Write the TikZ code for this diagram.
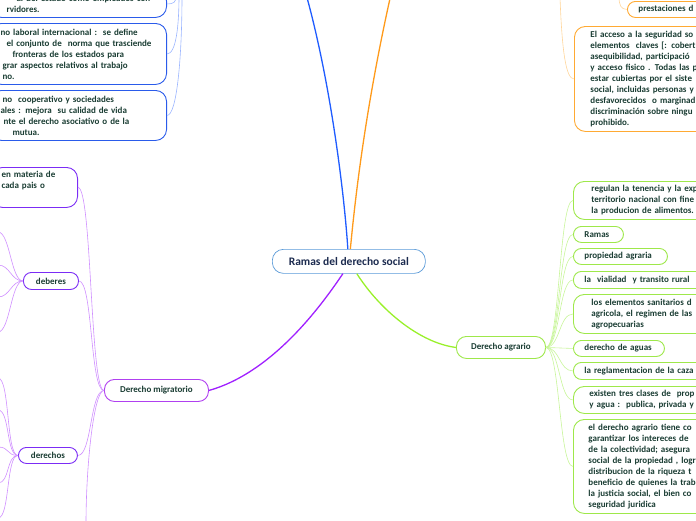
\documentclass[tikz,border=0pt]{standalone}
\usepackage{fontspec}
\setmainfont{Carlito}
\definecolor{txt}{HTML}{1A3D33}
\definecolor{rtxt}{HTML}{1C2B4F}
\definecolor{rootb}{HTML}{5A9AD8}
\definecolor{bmain}{HTML}{1F5CFF}
\definecolor{bbord}{HTML}{2A5BEA}
\definecolor{bline}{HTML}{9BB5FF}
\definecolor{omain}{HTML}{FF9A1A}
\definecolor{obord}{HTML}{FFAA33}
\definecolor{oline}{HTML}{FFD59A}
\definecolor{gmain}{HTML}{99F02A}
\definecolor{gbord}{HTML}{9EE84A}
\definecolor{gline}{HTML}{C8F59A}
\definecolor{pmain}{HTML}{A020FF}
\definecolor{pmig}{HTML}{B040F0}
\definecolor{pbord}{HTML}{7B2CF5}
\definecolor{pline}{HTML}{CF8FFF}
\tikzset{
  base/.style={rounded corners=8pt, fill=white, line width=0.9pt, text=txt,
    font=\fontsize{9}{11}\selectfont\bfseries, inner ysep=0pt},
  tbox/.style={base, rounded corners=11pt, align=left},
  gbox/.style={base, draw=gbord, align=left},
  gtbox/.style={tbox, draw=gbord},
  otbox/.style={tbox, draw=obord},
  obox/.style={base, draw=obord, align=left},
  btbox/.style={tbox, draw=bbord, text width=156pt, inner xsep=10pt, anchor=north east},
  ptbox/.style={tbox, draw=pbord},
  pbox/.style={base, draw=pbord, align=center},
  migbox/.style={base, draw=pmig, align=center, rounded corners=10pt},
  agrbox/.style={base, draw=gbord, align=center, rounded corners=10pt},
  rootbox/.style={base, draw=rootb, line width=0.7pt, text=rtxt, align=center,
    rounded corners=11pt, font=\fontsize{11.5}{13}\selectfont\bfseries},
  mainline/.style={line width=1.3pt},
  subline/.style={line width=0.6pt},
}
\begin{document}
\begin{tikzpicture}[x=1pt,y=-1pt]
\useasboundingbox (0,0) rectangle (696,520);

% root
\node[rootbox, anchor=north west, minimum width=153pt, minimum height=24pt] (root) at (272,249) {Ramas del derecho social};

% blue side (top-left)
\node[btbox, minimum height=27pt] (b1) at (167,-10) {\hspace*{16pt}al del estado como empleados con\\\hspace*{6pt}rvidores.};
\node[btbox, minimum height=61pt] (b2) at (167,23) {no laboral internacional :\ \ se define\\\hspace*{6pt}el conjunto de\ \ norma que trasciende\\\hspace*{12pt}fronteras de los estados para\\\hspace*{2pt}grar aspectos relativos al trabajo\\\hspace*{2pt}no.};
\node[btbox, minimum height=50pt] (b3) at (167,90) {\hspace*{2pt}no\ \ cooperativo y sociedades\\ales : mejora\ \ su calidad de vida\\\hspace*{3pt}nte el derecho asociativo o de la\\\hspace*{12pt}mutua.};
\coordinate (bt1) at (176,-4);
\coordinate (bt2) at (179,-4);
\coordinate (bt3) at (182,-4);

% orange side (top-right)
\node[obox, anchor=north west, text width=140pt, inner xsep=11pt, minimum height=16pt] (o1) at (627,1) {prestaciones d};
\node[otbox, anchor=north west, text width=170pt, inner xsep=16pt, minimum height=105pt] (o2) at (574,26) {El acceso a la seguridad so\\elementos\ \ claves [: cobert\\asequibilidad, participació\\y acceso fisico . Todas las p\\estar cubiertas por el siste\\social, incluidas personas y\\desfavorecidos\ \ o marginad\\discriminación sobre ningu\\prohibido.};
\coordinate (ot1) at (619,-3);
\coordinate (ot2) at (560,-3);

% green side
\node[agrbox, anchor=north west, minimum width=89pt, minimum height=22pt] (agr) at (456,336) {Derecho agrario};
\node[gtbox, anchor=north west, text width=182pt, inner xsep=18pt, minimum height=38pt] (g1) at (573,181) {regulan la tenencia y la exp\\territorio nacional con fine\\la producion de alimentos.};
\node[gbox, anchor=north west, text width=28pt, inner xsep=11pt, minimum height=16pt] (g2) at (573,226) {Ramas};
\node[gbox, anchor=north west, text width=72pt, inner xsep=11pt, minimum height=16pt] (g3) at (573,248) {propiedad agraria};
\node[gbox, anchor=north west, text width=160pt, inner xsep=11pt, minimum height=17pt] (g4) at (573,271) {la\ \ vialidad\ \ y transito rural};
\node[gtbox, anchor=north west, text width=182pt, inner xsep=18pt, minimum height=39pt] (g5) at (573,294) {los elementos sanitarios d\\agricola, el regimen de las\\agropecuarias};
\node[gbox, anchor=north west, text width=69pt, inner xsep=11pt, minimum height=16pt] (g6) at (573,340) {derecho de aguas};
\node[gbox, anchor=north west, text width=170pt, inner xsep=11pt, minimum height=17pt] (g7) at (573,362) {la reglamentacion de la caza};
\node[gtbox, anchor=north west, text width=184pt, inner xsep=16pt, minimum height=27pt] (g8) at (573,386) {existen tres clases de\ \ prop\\y agua :\ \ publica, privada y};
\node[gtbox, anchor=north west, text width=185pt, inner xsep=15pt, minimum height=94pt] (g9) at (573,419) {el derecho agrario tiene co\\garantizar los intereces de\\de la colectividad; asegura\\social de la propiedad , logr\\distribucion de la riqueza t\\beneficio de quienes la trab\\la justicia social, el bien co\\seguridad juridica};

% purple side
\node[migbox, anchor=north west, minimum width=104pt, minimum height=22pt] (mig) at (104,379) {Derecho migratorio};
\node[ptbox, anchor=north east, text width=66pt, inner xsep=10pt, minimum height=40pt] (p1) at (78,167) {en materia de\\cada pais o\\\strut};
\node[pbox, anchor=north west, minimum width=55pt, minimum height=17pt] (deb) at (23,272) {deberes};
\node[pbox, anchor=north west, minimum width=59pt, minimum height=16pt] (der) at (18,447) {derechos};
\coordinate (migdown) at (86,524);
\coordinate (d1) at (-2,232);
\coordinate (d2) at (-2,265);
\coordinate (d3) at (-2,297);
\coordinate (d4) at (-2,332);
\coordinate (e1) at (-2,378);
\coordinate (e2) at (-2,410);
\coordinate (e3) at (-2,447);
\coordinate (e4) at (-2,483);
\coordinate (e5) at (-2,518);
\coordinate (btop) at (306,-6);
\coordinate (otop) at (391,-6);

% main connectors
\draw[mainline, bmain] ([xshift=-1pt]root.north) .. controls (344,190) and (330,80) .. (btop);
\draw[mainline, omain] ([xshift=1.5pt]root.north) .. controls (355,200) and (365,110) .. (otop);
\draw[mainline, pmain] ([xshift=-6pt]root.south) .. controls (325,300) and (275,372) .. (mig.east);
\draw[mainline, gmain] ([xshift=8pt]root.south) .. controls (380,310) and (420,343) .. (agr.west);

% blue sub
\begin{scope}[subline, bline]
\draw (b1.east) .. controls +(7,0) and +(0,6) .. (bt1);
\draw (b2.east) .. controls +(9,0) and +(0,30) .. (bt2);
\draw (b3.east) .. controls +(10,0) and +(0,60) .. (bt3);
\end{scope}

% orange sub
\begin{scope}[subline, oline]
\draw (ot1) .. controls +(0,8) and +(-6,0) .. (o1.west);
\draw (ot2) .. controls +(2,55) and +(-8,0) .. (o2.west);
\end{scope}

% green sub
\begin{scope}[subline, gline]
\foreach \g in {g1,g2,g3,g4,g5,g6,g7,g8,g9}
  \draw (agr.east) .. controls +(14,0) and +(-14,0) .. (\g.west);
\end{scope}

% purple sub
\begin{scope}[subline, pline]
\draw (p1.east) .. controls +(14,0) and +(-14,0) .. (mig.west);
\draw (deb.east) .. controls +(14,0) and +(-14,0) .. (mig.west);
\draw (der.east) .. controls +(14,0) and +(-14,0) .. (mig.west);
\draw (mig.west) .. controls +(-10,0) and +(0,-60) .. (migdown);
\foreach \c in {d1,d2,d3,d4}
  \draw (deb.west) .. controls +(-12,0) and +(12,0) .. (\c);
\foreach \c in {e1,e2,e3,e4,e5}
  \draw (der.west) .. controls +(-12,0) and +(12,0) .. (\c);
\end{scope}
\end{tikzpicture}
\end{document}
